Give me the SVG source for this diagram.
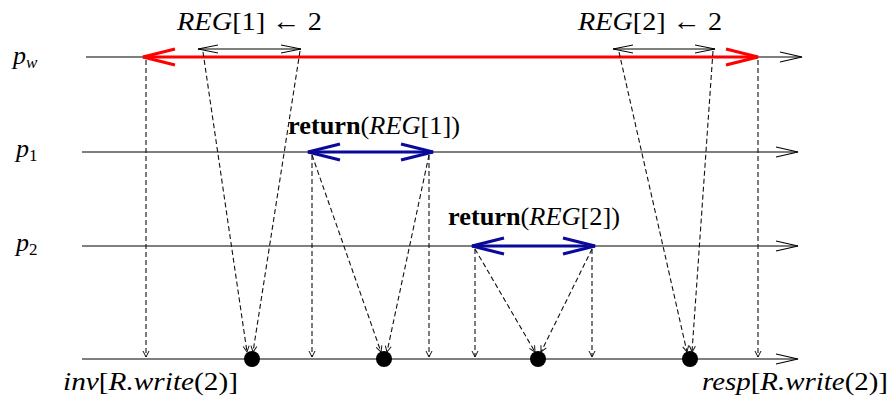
<svg xmlns="http://www.w3.org/2000/svg" width="891" height="403" viewBox="0 0 891 403">
<style>
  .lbl { font-family: "Liberation Serif", "DejaVu Serif", serif; font-size: 26px; fill: #000; }
  .it { font-style: italic; }
  .ret { font-weight: bold; }
  .line { stroke: #000; stroke-width: 1.2; fill: none; }
  .dash { stroke: #111; stroke-width: 1.1; fill: none; stroke-dasharray: 5 3; marker-end: url(#tip); }
  .reg { stroke: #000; stroke-width: 1; fill: none; marker-start: url(#smallS); marker-end: url(#smallE); }
  .red { stroke: #ff0000; stroke-width: 3; fill: none; marker-start: url(#redS); marker-end: url(#redE); }
  .blue { stroke: #0a0a9a; stroke-width: 3; fill: none; marker-start: url(#blueS); marker-end: url(#blueE); }
  .dot { fill: #000; }
</style>
<defs>
  <marker id="tip" markerUnits="userSpaceOnUse" viewBox="0 0 8 8" markerWidth="8" markerHeight="8" refX="7" refY="4" orient="auto">
    <path d="M1,1 L7,4 L1,7" fill="none" stroke="#111" stroke-width="1"/>
  </marker>
  <marker id="big" markerUnits="userSpaceOnUse" viewBox="0 0 24 12" markerWidth="24" markerHeight="12" refX="23" refY="6" orient="auto">
    <path d="M1,1 L23,6 L1,11" fill="none" stroke="#000" stroke-width="1.2"/>
  </marker>
  <marker id="smallE" markerUnits="userSpaceOnUse" viewBox="0 0 22 10" markerWidth="22" markerHeight="10" refX="21" refY="5" orient="auto">
    <path d="M1,1 L21,5 L1,9" fill="none" stroke="#000" stroke-width="1"/>
  </marker>
  <marker id="smallS" markerUnits="userSpaceOnUse" viewBox="0 0 22 10" markerWidth="22" markerHeight="10" refX="1" refY="5" orient="auto">
    <path d="M21,1 L1,5 L21,9" fill="none" stroke="#000" stroke-width="1"/>
  </marker>
  <marker id="redE" markerUnits="userSpaceOnUse" viewBox="0 0 36 20" markerWidth="36" markerHeight="20" refX="34" refY="10" orient="auto">
    <path d="M2,2 L34,10 L2,18" fill="none" stroke="#ff0000" stroke-width="3"/>
  </marker>
  <marker id="redS" markerUnits="userSpaceOnUse" viewBox="0 0 36 20" markerWidth="36" markerHeight="20" refX="2" refY="10" orient="auto">
    <path d="M34,2 L2,10 L34,18" fill="none" stroke="#ff0000" stroke-width="3"/>
  </marker>
  <marker id="blueE" markerUnits="userSpaceOnUse" viewBox="0 0 36 20" markerWidth="36" markerHeight="20" refX="34" refY="10" orient="auto">
    <path d="M2,2 L34,10 L2,18" fill="none" stroke="#0a0a9a" stroke-width="3"/>
  </marker>
  <marker id="blueS" markerUnits="userSpaceOnUse" viewBox="0 0 36 20" markerWidth="36" markerHeight="20" refX="2" refY="10" orient="auto">
    <path d="M34,2 L2,10 L34,18" fill="none" stroke="#0a0a9a" stroke-width="3"/>
  </marker>
</defs>

<g id="proc-pw">
  <line class="line" x1="86" y1="57" x2="802" y2="57" marker-end="url(#big)"/>
  <text class="lbl it" x="13" y="64">p<tspan font-size="17" dy="4">w</tspan></text>
</g>
<g id="proc-p1">
  <line class="line" x1="82" y1="152" x2="798" y2="152" marker-end="url(#big)"/>
  <text class="lbl" x="16" y="157"><tspan class="it">p</tspan><tspan font-size="17" dy="4">1</tspan></text>
</g>
<g id="proc-p2">
  <line class="line" x1="82" y1="246" x2="798" y2="246" marker-end="url(#big)"/>
  <text class="lbl" x="16" y="251"><tspan class="it">p</tspan><tspan font-size="17" dy="4">2</tspan></text>
</g>
<g id="proc-R">
  <line class="line" x1="82" y1="359" x2="798" y2="359" marker-end="url(#big)"/>
  <text class="lbl" x="63" y="390" textLength="175" lengthAdjust="spacingAndGlyphs"><tspan class="it">inv</tspan>[<tspan class="it">R.write</tspan>(2)]</text>
  <text class="lbl" x="702" y="390" textLength="186" lengthAdjust="spacingAndGlyphs"><tspan class="it">resp</tspan>[<tspan class="it">R.write</tspan>(2)]</text>
</g>

<g id="write-op">
  <line class="red" x1="143" y1="57" x2="758" y2="57"/>
</g>
<g id="reg1-write">
  <line class="reg" x1="198" y1="49" x2="301" y2="49"/>
  <text class="lbl" x="177" y="30" textLength="145" lengthAdjust="spacingAndGlyphs"><tspan class="it">REG</tspan>[1] ← 2</text>
</g>
<g id="reg2-write">
  <line class="reg" x1="613" y1="49" x2="715" y2="49"/>
  <text class="lbl" x="578" y="30" textLength="144" lengthAdjust="spacingAndGlyphs"><tspan class="it">REG</tspan>[2] ← 2</text>
</g>
<g id="return1">
  <line class="blue" x1="308" y1="152" x2="433" y2="152"/>
  <text class="lbl" x="288" y="134" textLength="172" lengthAdjust="spacingAndGlyphs"><tspan class="ret">return</tspan>(<tspan class="it">REG</tspan>[1])</text>
</g>
<g id="return2">
  <line class="blue" x1="472" y1="246" x2="595" y2="246"/>
  <text class="lbl" x="448" y="225" textLength="172" lengthAdjust="spacingAndGlyphs"><tspan class="ret">return</tspan>(<tspan class="it">REG</tspan>[2])</text>
</g>
<g id="events">
  <circle class="dot" cx="252" cy="359" r="8"/>
  <circle class="dot" cx="384" cy="359" r="8"/>
  <circle class="dot" cx="538" cy="359" r="8"/>
  <circle class="dot" cx="690" cy="359" r="8"/>
</g>

<g id="connectors">
  <line class="dash" x1="146" y1="60" x2="146" y2="357"/>
  <line class="dash" x1="203" y1="52" x2="247" y2="352"/>
  <line class="dash" x1="300" y1="51" x2="253" y2="352"/>
  <line class="dash" x1="312" y1="155" x2="312" y2="357"/>
  <line class="dash" x1="312" y1="155" x2="381" y2="352"/>
  <line class="dash" x1="429" y1="155" x2="387" y2="352"/>
  <line class="dash" x1="429" y1="155" x2="429" y2="357"/>
  <line class="dash" x1="475" y1="249" x2="475" y2="357"/>
  <line class="dash" x1="475" y1="249" x2="535" y2="352"/>
  <line class="dash" x1="592" y1="249" x2="541" y2="352"/>
  <line class="dash" x1="592" y1="249" x2="592" y2="357"/>
  <line class="dash" x1="619" y1="52" x2="687" y2="352"/>
  <line class="dash" x1="713" y1="51" x2="692" y2="352"/>
  <line class="dash" x1="758" y1="60" x2="758" y2="357"/>
</g>
</svg>
